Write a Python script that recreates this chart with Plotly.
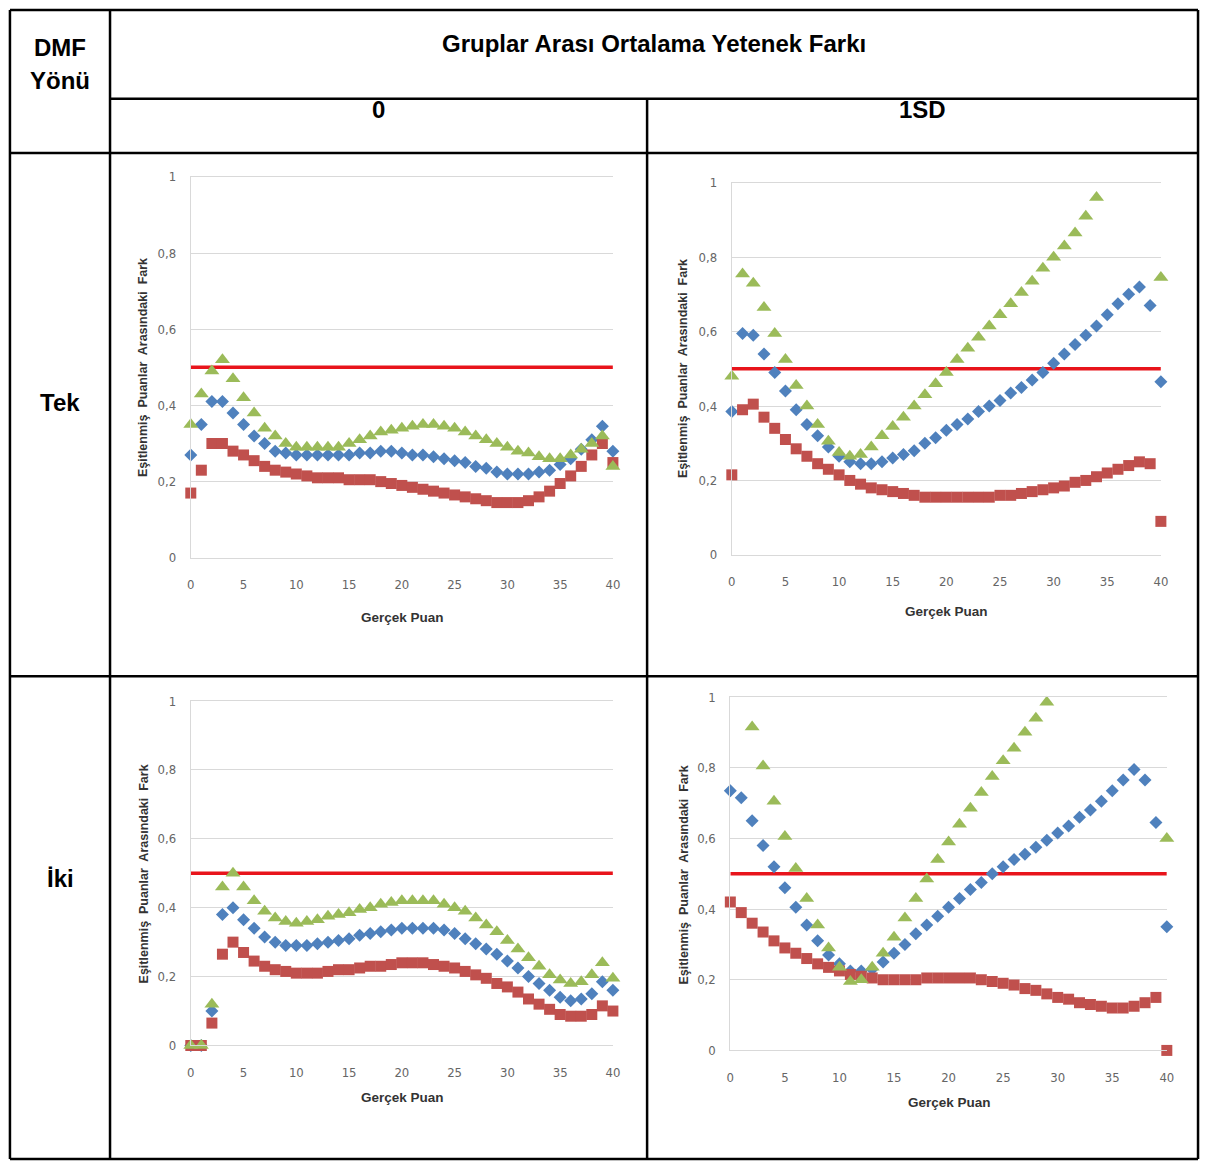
import plotly.graph_objects as go

W, H = 1209, 1168

# ---------------- data ----------------
scores = list(range(0, 41))
x_ticks = [0, 5, 10, 15, 20, 25, 30, 35, 40]
y_ticks = [0, 0.2, 0.4, 0.6, 0.8, 1]
y_ticktext = ["0", "0,2", "0,4", "0,6", "0,8", "1"]
cutoff = 0.5

row_labels = ["Tek", "İki"]
col_labels = ["0", "1SD"]

tek_0_blue = [0.27, 0.35, 0.41, 0.41, 0.38, 0.35, 0.32, 0.30, 0.28, 0.275, 0.27, 0.27, 0.27, 0.27,
              0.27, 0.27, 0.275, 0.275, 0.28, 0.28, 0.275, 0.27, 0.27, 0.265, 0.26, 0.255, 0.25,
              0.24, 0.235, 0.225, 0.22, 0.22, 0.22, 0.225, 0.23, 0.245, 0.26, 0.285, 0.31, 0.345, 0.28]
tek_0_red = [0.17, 0.23, 0.30, 0.30, 0.28, 0.27, 0.255, 0.24, 0.23, 0.225, 0.22, 0.215, 0.21, 0.21,
             0.21, 0.205, 0.205, 0.205, 0.20, 0.195, 0.19, 0.185, 0.18, 0.175, 0.17, 0.165, 0.16,
             0.155, 0.15, 0.145, 0.145, 0.145, 0.15, 0.16, 0.175, 0.195, 0.215, 0.24, 0.27, 0.30, 0.25]
tek_0_green = [0.35, 0.43, 0.49, 0.52, 0.47, 0.42, 0.38, 0.34, 0.32, 0.30, 0.29, 0.29, 0.29, 0.29,
               0.29, 0.30, 0.31, 0.32, 0.33, 0.335, 0.34, 0.345, 0.35, 0.35, 0.345, 0.34, 0.33,
               0.32, 0.31, 0.30, 0.29, 0.28, 0.275, 0.265, 0.26, 0.26, 0.27, 0.285, 0.30, 0.32, 0.24]

tek_1sd_blue = [0.385, 0.595, 0.59, 0.54, 0.49, 0.44, 0.39, 0.35, 0.32, 0.29, 0.265, 0.25, 0.245,
                0.245, 0.25, 0.26, 0.27, 0.28, 0.30, 0.315, 0.335, 0.35, 0.365, 0.385, 0.40, 0.415,
                0.435, 0.45, 0.47, 0.49, 0.515, 0.54, 0.565, 0.59, 0.615, 0.645, 0.675, 0.70, 0.72,
                0.67, 0.465]
tek_1sd_red = [0.215, 0.39, 0.405, 0.37, 0.34, 0.31, 0.285, 0.265, 0.245, 0.23, 0.215, 0.20, 0.19,
               0.18, 0.175, 0.17, 0.165, 0.16, 0.155, 0.155, 0.155, 0.155, 0.155, 0.155, 0.155,
               0.16, 0.16, 0.165, 0.17, 0.175, 0.18, 0.185, 0.195, 0.20, 0.21, 0.22, 0.23, 0.24,
               0.25, 0.245, 0.09]
tek_1sd_green = [0.48, 0.755, 0.73, 0.665, 0.595, 0.525, 0.455, 0.40, 0.35, 0.305, 0.275, 0.265,
                 0.27, 0.29, 0.32, 0.345, 0.37, 0.40, 0.43, 0.46, 0.49, 0.525, 0.555, 0.585, 0.615,
                 0.645, 0.675, 0.705, 0.735, 0.77, 0.80, 0.83, 0.865, 0.91, 0.96,
                 None, None, None, None, None, 0.745]

iki_0_blue = [0, 0, 0.10, 0.38, 0.40, 0.365, 0.34, 0.315, 0.30, 0.29, 0.29, 0.29, 0.295, 0.30,
              0.305, 0.31, 0.32, 0.325, 0.33, 0.335, 0.34, 0.34, 0.34, 0.34, 0.335, 0.325, 0.31,
              0.295, 0.28, 0.265, 0.245, 0.225, 0.20, 0.18, 0.16, 0.14, 0.13, 0.135, 0.15, 0.185, 0.16]
iki_0_red = [0, 0, 0.065, 0.265, 0.30, 0.27, 0.245, 0.23, 0.22, 0.215, 0.21, 0.21, 0.21, 0.215,
             0.22, 0.22, 0.225, 0.23, 0.23, 0.235, 0.24, 0.24, 0.24, 0.235, 0.23, 0.225, 0.215,
             0.205, 0.195, 0.18, 0.17, 0.155, 0.135, 0.12, 0.105, 0.09, 0.085, 0.085, 0.09, 0.115, 0.10]
iki_0_green = [0, 0, 0.12, 0.46, 0.50, 0.46, 0.42, 0.39, 0.37, 0.36, 0.355, 0.36, 0.365, 0.375,
               0.38, 0.385, 0.395, 0.40, 0.41, 0.415, 0.42, 0.42, 0.42, 0.42, 0.41, 0.40, 0.39,
               0.37, 0.35, 0.33, 0.305, 0.28, 0.255, 0.23, 0.205, 0.19, 0.18, 0.185, 0.205, 0.24, 0.195]

iki_1sd_blue = [0.735, 0.715, 0.65, 0.58, 0.52, 0.46, 0.405, 0.355, 0.31, 0.27, 0.245, 0.225,
                0.225, 0.23, 0.25, 0.275, 0.30, 0.33, 0.355, 0.38, 0.405, 0.43, 0.455, 0.475, 0.50,
                0.52, 0.54, 0.555, 0.575, 0.595, 0.615, 0.635, 0.66, 0.68, 0.705, 0.735, 0.765,
                0.795, 0.765, 0.645, 0.35]
iki_1sd_red = [0.42, 0.39, 0.36, 0.335, 0.31, 0.29, 0.275, 0.26, 0.245, 0.235, 0.225, 0.215, 0.21,
               0.205, 0.20, 0.20, 0.20, 0.20, 0.205, 0.205, 0.205, 0.205, 0.205, 0.20, 0.195, 0.19,
               0.185, 0.175, 0.17, 0.16, 0.15, 0.145, 0.135, 0.13, 0.125, 0.12, 0.12, 0.125, 0.135,
               0.15, 0.0]
iki_1sd_green = [None, None, 0.915, 0.805, 0.705, 0.605, 0.515, 0.43, 0.355, 0.29, 0.235, 0.195,
                 0.20, 0.235, 0.275, 0.32, 0.375, 0.43, 0.485, 0.54, 0.59, 0.64, 0.685, 0.73, 0.775,
                 0.82, 0.855, 0.90, 0.94, 0.985, None, None, None, None, None, None, None, None,
                 None, None, 0.60]

# ---------------- styling ----------------
BLUE, RED, GREEN = "#4F81BD", "#C0504D", "#9BBB59"
LINE_RED = "#E8141B"
GRID = "#D9D9D9"
TICKFONT = dict(family="Liberation Sans Narrow, DejaVu Sans Condensed, Liberation Sans, Arial",
                size=13, color="#666666")
HEADFONT = dict(family="Liberation Sans, Arial, sans-serif", size=25, color="#000000")


def px_x(p):
    return p / W


def px_y(p):
    return 1 - p / H


# pixel geometry of the four plot areas: (x at 0, x at 40, y at 1, y at 0)
panels = [
    dict(blue=tek_0_blue, red=tek_0_red, green=tek_0_green, box=(188.5, 614.5, 172, 558),
         ytitle=(141, 365), xtitle=(402, 618)),
    dict(blue=tek_1sd_blue, red=tek_1sd_red, green=tek_1sd_green, box=(734.5, 1167.5, 178, 555),
         ytitle=(686, 366), xtitle=(951, 612)),
    dict(blue=iki_0_blue, red=iki_0_red, green=iki_0_green, box=(188.5, 614.5, 703, 1052),
         ytitle=(141, 878), xtitle=(402, 1105)),
    dict(blue=iki_1sd_blue, red=iki_1sd_red, green=iki_1sd_green, box=(733, 1173.5, 699, 1057),
         ytitle=(686, 879), xtitle=(954, 1110)),
]

fig = go.Figure()
annotations = []
layout_axes = {}

for i, p in enumerate(panels, start=1):
    xa = "x" if i == 1 else f"x{i}"
    ya = "y" if i == 1 else f"y{i}"
    x0, x1, y1, y0 = p["box"]
    fig.add_trace(go.Scatter(x=[scores[0], scores[-1]], y=[cutoff, cutoff], mode="lines",
                             line=dict(color=LINE_RED, width=3.5), xaxis=xa, yaxis=ya,
                             showlegend=False, hoverinfo="skip"))
    fig.add_trace(go.Scatter(x=scores, y=p["blue"], mode="markers", cliponaxis=False,
                             marker=dict(symbol="diamond", size=10, color=BLUE),
                             xaxis=xa, yaxis=ya, showlegend=False))
    fig.add_trace(go.Scatter(x=scores, y=p["red"], mode="markers", cliponaxis=False,
                             marker=dict(symbol="square", size=11, color=RED),
                             xaxis=xa, yaxis=ya, showlegend=False))
    fig.add_trace(go.Scatter(x=scores, y=p["green"], mode="markers", cliponaxis=False,
                             marker=dict(symbol="triangle-up", size=13, color=GREEN),
                             xaxis=xa, yaxis=ya, showlegend=False))

    xkey = "xaxis" if i == 1 else f"xaxis{i}"
    ykey = "yaxis" if i == 1 else f"yaxis{i}"
    layout_axes[xkey] = dict(domain=[px_x(x0), px_x(x1)], range=[0, 40], anchor=ya,
                             tickvals=x_ticks, showgrid=False, zeroline=False,
                             showline=True, linecolor=GRID, linewidth=1, mirror=True,
                             ticks="", tickfont=TICKFONT, ticklabelstandoff=15, fixedrange=True)
    layout_axes[ykey] = dict(domain=[px_y(y0), px_y(y1)], range=[0, 1], anchor=xa,
                             tickvals=y_ticks, ticktext=y_ticktext, showgrid=True,
                             gridcolor=GRID, gridwidth=1, zeroline=False,
                             showline=True, linecolor=GRID, linewidth=1,
                             ticks="", tickfont=TICKFONT, ticklabelstandoff=11, fixedrange=True)

    tx, ty = p["ytitle"]
    annotations.append(dict(x=px_x(tx), y=px_y(ty), xref="paper", yref="paper",
                            text="<b>Eşitlenmiş  Puanlar  Arasındaki  Fark</b>", textangle=-90,
                            showarrow=False, xanchor="center", yanchor="middle",
                            font=dict(family="Liberation Sans, Arial", size=12.5, color="#333333")))
    gx, gy = p["xtitle"]
    annotations.append(dict(x=px_x(gx), y=px_y(gy), xref="paper", yref="paper",
                            text="<b>Gerçek Puan</b>", showarrow=False,
                            xanchor="center", yanchor="middle",
                            font=dict(family="Liberation Sans Narrow, Liberation Sans, Arial",
                                      size=13.5, color="#333333")))

# ---------------- table frame ----------------
shapes = []


def hline(y, xa, xb):
    shapes.append(dict(type="line", xref="paper", yref="paper", x0=px_x(xa), x1=px_x(xb),
                       y0=px_y(y), y1=px_y(y), line=dict(color="black", width=2.5)))


def vline(x, ya, yb):
    shapes.append(dict(type="line", xref="paper", yref="paper", x0=px_x(x), x1=px_x(x),
                       y0=px_y(ya), y1=px_y(yb), line=dict(color="black", width=2.5)))


hline(3, 6, 1205)
hline(93, 107, 1205)
hline(148, 6, 1205)
hline(678, 6, 1205)
hline(1167, 6, 1205)
vline(6, 3, 1167)
vline(107, 3, 1167)
vline(649, 93, 1167)
vline(1205, 3, 1167)


def label(text, x, y, size=24):
    annotations.append(dict(x=px_x(x), y=px_y(y), xref="paper", yref="paper",
                            text=f"<b>{text}</b>", showarrow=False, xanchor="center",
                            yanchor="middle", font=dict(HEADFONT, size=size)))


label("DMF", 57, 41)
label("Yönü", 57, 74)
label("Gruplar Arası Ortalama Yetenek Farkı", 656, 37)
label(col_labels[0], 378, 104)
label(col_labels[1], 927, 104)
label(row_labels[0], 57, 401)
label(row_labels[1], 57, 883)

fig.update_layout(width=W, height=H, margin=dict(l=0, r=0, t=0, b=0),
                  paper_bgcolor="white", plot_bgcolor="white",
                  shapes=shapes, annotations=annotations, showlegend=False, **layout_axes)

fig.write_html("out.html")
